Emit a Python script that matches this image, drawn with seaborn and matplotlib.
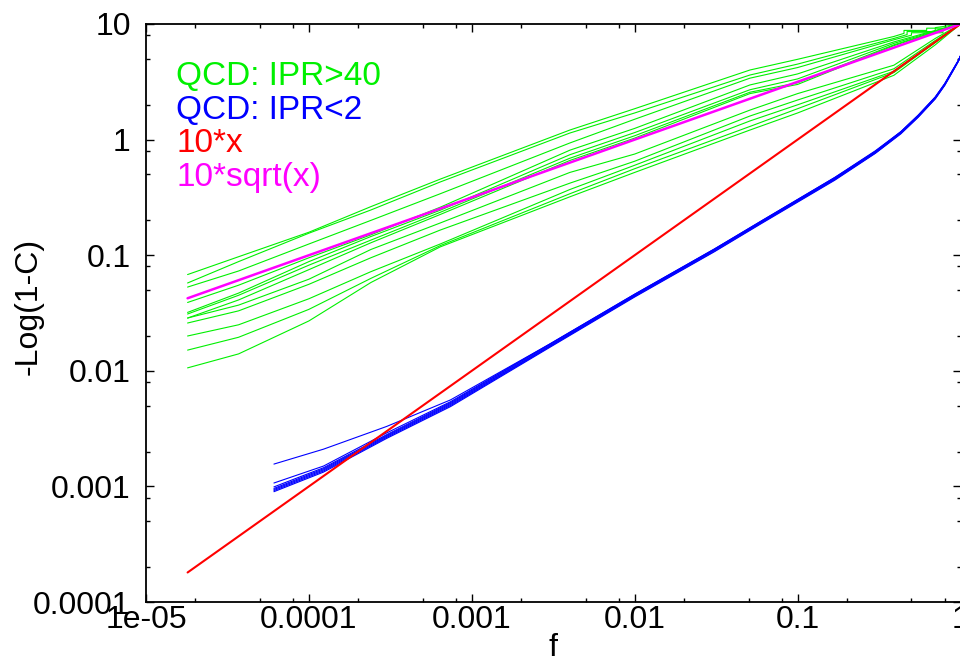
import numpy as np
import pandas as pd
import matplotlib
matplotlib.use("Agg")
import matplotlib.pyplot as plt
from matplotlib.ticker import FixedLocator, FixedFormatter, LogLocator, NullFormatter
import seaborn as sns

# ---- data -------------------------------------------------------------
# QCD, IPR > 40: upper bundle (shared grid up to f = 0.39, then own tails)
top_f = [1.8e-5, 3.7e-5, 1e-4, 2.4e-4, 6.4e-4, 4e-3, 1e-2, 5.1e-2, 0.1, 0.39]
top_curves = [
    [0.068, 0.097, 0.158, 0.263, 0.455, 1.21, 1.85, 4.0, 4.95, 7.8],
    [0.0575, 0.088, 0.155, 0.246, 0.43, 1.14, 1.70, 3.62, 4.5, 7.5],
    [0.053, 0.073, 0.125, 0.20, 0.34, 0.935, 1.50, 3.4, 4.2, 7.3],
    [0.039, 0.055, 0.095, 0.150, 0.26, 0.81, 1.25, 2.97, 3.7, 7.0],
    [0.032, 0.047, 0.088, 0.145, 0.245, 0.74, 1.15, 2.7, 3.35, 6.8],
    [0.031, 0.045, 0.082, 0.135, 0.235, 0.69, 1.08, 2.57, 3.1, 6.6],
    [0.0286, 0.041, 0.075, 0.128, 0.225, 0.66, 1.03, 2.5, 3.0, 6.5],
]
top_tail_f = [
    [0.45, 0.45, 0.62, 0.62, 0.85, 0.85, 1.0],
    [0.47, 0.47, 0.70, 0.70, 1.0],
    [0.50, 0.50, 0.78, 0.78, 1.0],
    [0.70, 1.0],
    [0.70, 1.0],
    [0.70, 1.0],
    [0.70, 1.0],
]
top_tail_v = [
    [8.3, 8.8, 8.8, 9.2, 9.2, 9.6, 10.0],
    [8.1, 8.6, 8.6, 9.3, 10.0],
    [8.0, 8.4, 8.4, 9.1, 10.0],
    [8.8, 10.0],
    [8.7, 10.0],
    [8.6, 10.0],
    [8.5, 10.0],
]

# QCD, IPR > 40: lower bundle
low_f = [1.8e-5, 3.7e-5, 1e-4, 2.4e-4, 6.4e-4, 4e-3, 1e-2, 5.1e-2, 0.1, 0.39, 0.7, 1.0]
low_curves = [
    [0.0106, 0.0140, 0.027, 0.058, 0.118, 0.32, 0.52, 1.21, 1.70, 3.6, 6.6, 10.0],
    [0.0151, 0.0195, 0.034, 0.063, 0.121, 0.34, 0.56, 1.30, 1.85, 3.8, 6.9, 10.0],
    [0.0200, 0.0250, 0.042, 0.072, 0.125, 0.37, 0.60, 1.45, 2.0, 3.9, 7.0, 10.0],
    [0.0259, 0.0330, 0.056, 0.095, 0.165, 0.42, 0.65, 1.60, 2.2, 4.1, 7.2, 10.0],
    [0.0286, 0.0370, 0.062, 0.112, 0.190, 0.52, 0.75, 1.80, 2.5, 4.4, 7.5, 10.0],
]

# QCD, IPR < 2
blue_f = [6.1e-5, 1.23e-4, 3e-4, 7.4e-4, 3e-3, 1e-2, 3.08e-2, 0.06, 0.169,
          0.3, 0.43, 0.55, 0.70, 0.80, 0.90, 0.97, 1.0]
blue_curves = [
    [0.00156, 0.0021, 0.0033, 0.0056, 0.0170, 0.046, 0.113, 0.198, 0.47,
     0.80, 1.17, 1.63, 2.34, 3.05, 4.05, 4.85, 5.3],
    [0.00107, 0.00150, 0.0029, 0.0054, 0.0170, 0.046, 0.113, 0.198, 0.47,
     0.79, 1.17, 1.62, 2.33, 3.04, 4.05, 4.83, 5.3],
    [0.00099, 0.00145, 0.0028, 0.0053, 0.0168, 0.0455, 0.112, 0.196, 0.465,
     0.79, 1.16, 1.61, 2.32, 3.02, 4.02, 4.82, 5.3],
    [0.00096, 0.00142, 0.00275, 0.0052, 0.0165, 0.0450, 0.111, 0.194, 0.46,
     0.78, 1.15, 1.60, 2.30, 3.00, 4.00, 4.80, 5.3],
    [0.00094, 0.00139, 0.0027, 0.0051, 0.0163, 0.0445, 0.110, 0.192, 0.455,
     0.77, 1.14, 1.58, 2.28, 2.98, 3.97, 4.78, 5.3],
    [0.00092, 0.00136, 0.00265, 0.0050, 0.0161, 0.0440, 0.108, 0.190, 0.45,
     0.765, 1.13, 1.57, 2.26, 2.96, 3.95, 4.76, 5.3],
    [0.00090, 0.00133, 0.0026, 0.0049, 0.0159, 0.0435, 0.107, 0.188, 0.445,
     0.76, 1.12, 1.56, 2.25, 2.94, 3.93, 4.75, 5.3],
]

# reference lines 10*x and 10*sqrt(x)
ref_f = [1.8e-5, 1.0]
lin_v = [1.8e-4, 10.0]
sqrt_v = [0.0424, 10.0]

x_ticks = [1e-5, 1e-4, 1e-3, 1e-2, 1e-1, 1.0]
x_tick_labels = ["1e-05", "0.0001", "0.001", "0.01", "0.1", "1"]
y_ticks = [1e-4, 1e-3, 1e-2, 1e-1, 1.0, 10.0]
y_tick_labels = ["0.0001", "0.001", "0.01", "0.1", "1", "10"]

series_labels = ["QCD: IPR>40", "QCD: IPR<2", "10*x", "10*sqrt(x)"]
GREEN, BLUE, RED, MAGENTA = "#00f000", "#0000ff", "#ff0000", "#ff00ff"

# ---- long-form tables --------------------------------------------------
rows = []
for i, vals in enumerate(top_curves):
    fs = top_f + top_tail_f[i]
    vs = vals + top_tail_v[i]
    rows += [("top%d" % i, k, f, v) for k, (f, v) in enumerate(zip(fs, vs))]
for i, vals in enumerate(low_curves):
    rows += [("low%d" % i, k, f, v) for k, (f, v) in enumerate(zip(low_f, vals))]
green_df = pd.DataFrame(rows, columns=["curve", "order", "f", "val"])

rows = []
for i, vals in enumerate(blue_curves):
    rows += [("b%d" % i, k, f, v) for k, (f, v) in enumerate(zip(blue_f, vals))]
blue_df = pd.DataFrame(rows, columns=["curve", "order", "f", "val"])

lin_df = pd.DataFrame({"f": ref_f, "val": lin_v})
sqrt_df = pd.DataFrame({"f": ref_f, "val": sqrt_v})

# ---- figure -----------------------------------------------------------
sns.set_theme(style="ticks")
plt.rcParams["font.family"] = ["Liberation Sans", "DejaVu Sans"]

fig = plt.figure(figsize=(9.6, 6.57), dpi=100)
ax = fig.add_axes([146 / 960, 55 / 657, (960.5 - 146) / 960, 578 / 657])

sns.lineplot(data=green_df, x="f", y="val", units="curve", estimator=None,
             sort=False, color=GREEN, lw=0.8, ax=ax)
sns.lineplot(data=blue_df, x="f", y="val", units="curve", estimator=None,
             sort=False, color=BLUE, lw=0.8, ax=ax)
sns.lineplot(data=lin_df, x="f", y="val", color=RED, lw=1.5, ax=ax)
sns.lineplot(data=sqrt_df, x="f", y="val", color=MAGENTA, lw=1.8, ax=ax)

ax.set_xscale("log")
ax.set_yscale("log")
ax.set_xlim(1e-5, 1.0)
ax.set_ylim(1e-4, 10.0)

ax.xaxis.set_major_locator(FixedLocator(x_ticks))
ax.xaxis.set_major_formatter(FixedFormatter(x_tick_labels))
ax.yaxis.set_major_locator(FixedLocator(y_ticks))
ax.yaxis.set_major_formatter(FixedFormatter(y_tick_labels))
for axis in (ax.xaxis, ax.yaxis):
    axis.set_minor_locator(LogLocator(base=10, subs=[2, 5, 8]))
    axis.set_minor_formatter(NullFormatter())

ax.tick_params(which="both", direction="in", top=True, right=True,
               color="black", width=1.0)
ax.tick_params(which="major", length=6)
ax.tick_params(which="minor", length=3)
ax.tick_params(axis="y", which="major", labelsize=23, pad=11, labelcolor="black")
ax.tick_params(axis="x", which="major", labelsize=23, pad=2, labelcolor="black")

for sp in ax.spines.values():
    sp.set_linewidth(1.3)
    sp.set_color("black")

ax.set_xlabel("f", fontsize=23, color="black")
ax.set_ylabel("-Log(1-C)", fontsize=23, color="black")
ax.xaxis.set_label_coords(0.5, -0.053)
ax.yaxis.set_label_coords(-0.126, 0.512)

# coloured series captions
for lab, col, yy in zip(series_labels, [GREEN, BLUE, RED, MAGENTA],
                        [0.910, 0.851, 0.794, 0.734]):
    ax.text(0.037, yy, lab, color=col, fontsize=24, va="center", ha="left",
            transform=ax.transAxes)

fig.savefig("out.png", dpi=100)
